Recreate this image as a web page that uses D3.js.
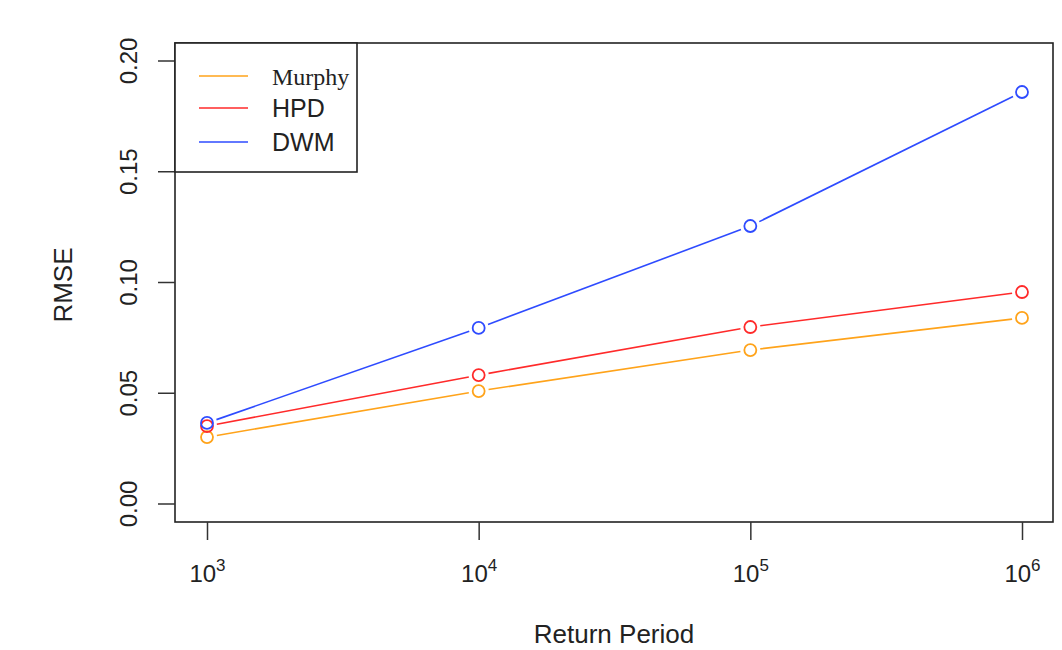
<!DOCTYPE html>
<html><head><meta charset="utf-8">
<script src="https://cdn.jsdelivr.net/npm/d3@7"></script>
<style>body{margin:0;background:#fff}</style>
</head><body>
<svg id="c" width="1062" height="650"></svg>
<script>
const periods = [1e3, 1e4, 1e5, 1e6];
const murphy = [0.0302, 0.0510, 0.0695, 0.0840];
const hpd = [0.0352, 0.0582, 0.0799, 0.0957];
const dwm = [0.0366, 0.0795, 0.1255, 0.1860];
const yTicks = [0, 0.05, 0.10, 0.15, 0.20];
const seriesNames = ["Murphy", "HPD", "DWM"];
const colors = ["#FFA31A", "#FF2A2A", "#2E4BFF"];

const sans = "Liberation Sans, Arial, sans-serif";
const svg = d3.select("#c");
const box = {l:175, r:1053, t:43, b:522};
const x = d3.scaleLog().domain([1e3, 1e6]).range([207, 1022]);
const y = d3.scaleLinear().domain([0, 0.20]).range([504, 61]);

// box
svg.append("rect").attr("x", box.l).attr("y", box.t).attr("width", box.r-box.l).attr("height", box.b-box.t)
  .attr("fill","none").attr("stroke","#222").attr("stroke-width",1.6);

// y axis
const ya = svg.append("g").attr("transform",`translate(${box.l},0)`)
  .call(d3.axisLeft(y).tickValues(yTicks).tickSize(17).tickFormat(d3.format(".2f")));
ya.select(".domain").remove();
ya.selectAll(".tick").attr("transform", "translate(0,0)");
ya.selectAll(".tick line").attr("y1", d=>y(d)).attr("y2", d=>y(d)).attr("x2",-17).attr("x1",0)
  .attr("stroke","#333").attr("stroke-width",1.5);
ya.selectAll(".tick text").attr("font-family",sans).attr("font-size",24).attr("fill","#222")
  .attr("x",0).attr("y",0).attr("dy",0).attr("text-anchor","middle")
  .attr("transform", d => `translate(-38,${y(d)}) rotate(-90)`);

// x axis
const xa = svg.append("g").attr("transform",`translate(0,${box.b})`)
  .call(d3.axisBottom(x).tickValues(periods).tickSize(18).tickFormat(""));
xa.select(".domain").remove();
xa.selectAll("line").attr("stroke","#333").attr("stroke-width",1.5);
xa.selectAll(".tick").each(function(d){
  const t = d3.select(this).append("text").attr("y",60).attr("fill","#222")
    .attr("font-family",sans).attr("font-size",24).attr("text-anchor","middle");
  t.append("tspan").text("10");
  t.append("tspan").attr("font-size",17).attr("dy",-11).text(Math.round(Math.log10(d)));
});

// labels
svg.append("text").attr("x",614).attr("y",643).attr("text-anchor","middle")
  .attr("font-family",sans).attr("font-size",26).attr("fill","#222").text("Return Period");
svg.append("text").attr("transform","translate(72,285) rotate(-90)").attr("text-anchor","middle")
  .attr("font-family",sans).attr("font-size",26).attr("fill","#222").text("RMSE");

// series
const all = [murphy, hpd, dwm];
const r = 6, gap = 10;
all.forEach((vals, si) => {
  const g = svg.append("g");
  const pts = vals.map((v,i)=>[x(periods[i]), y(v)]);
  for (let i=0;i<pts.length-1;i++){
    const [x1,y1]=pts[i],[x2,y2]=pts[i+1];
    const dx=x2-x1, dy=y2-y1, L=Math.hypot(dx,dy);
    g.append("line").attr("x1",x1+dx/L*gap).attr("y1",y1+dy/L*gap)
      .attr("x2",x2-dx/L*gap).attr("y2",y2-dy/L*gap)
      .attr("stroke",colors[si]).attr("stroke-width",1.6);
  }
  g.selectAll("circle").data(vals).join("circle")
    .attr("cx",(d,i)=>x(periods[i])).attr("cy",d=>y(d)).attr("r",r)
    .attr("fill","none").attr("stroke",colors[si]).attr("stroke-width",1.8);
});

// legend
const lg = svg.append("g");
lg.append("rect").attr("x",175).attr("y",43).attr("width",182).attr("height",129)
  .attr("fill","#fff").attr("stroke","#222").attr("stroke-width",1.6);
const ly = [76, 108, 142];
seriesNames.forEach((n,i)=>{
  lg.append("line").attr("x1",199).attr("x2",248).attr("y1",ly[i]).attr("y2",ly[i])
    .attr("stroke",colors[i]).attr("stroke-width",1.6);
  lg.append("text").attr("x",272).attr("y",ly[i]+9).attr("fill","#222")
    .attr("font-family", i===0 ? "Liberation Serif, Times New Roman, serif" : sans)
    .attr("font-size", i===0 ? 24 : 25).text(n);
});
</script>
</body></html>
